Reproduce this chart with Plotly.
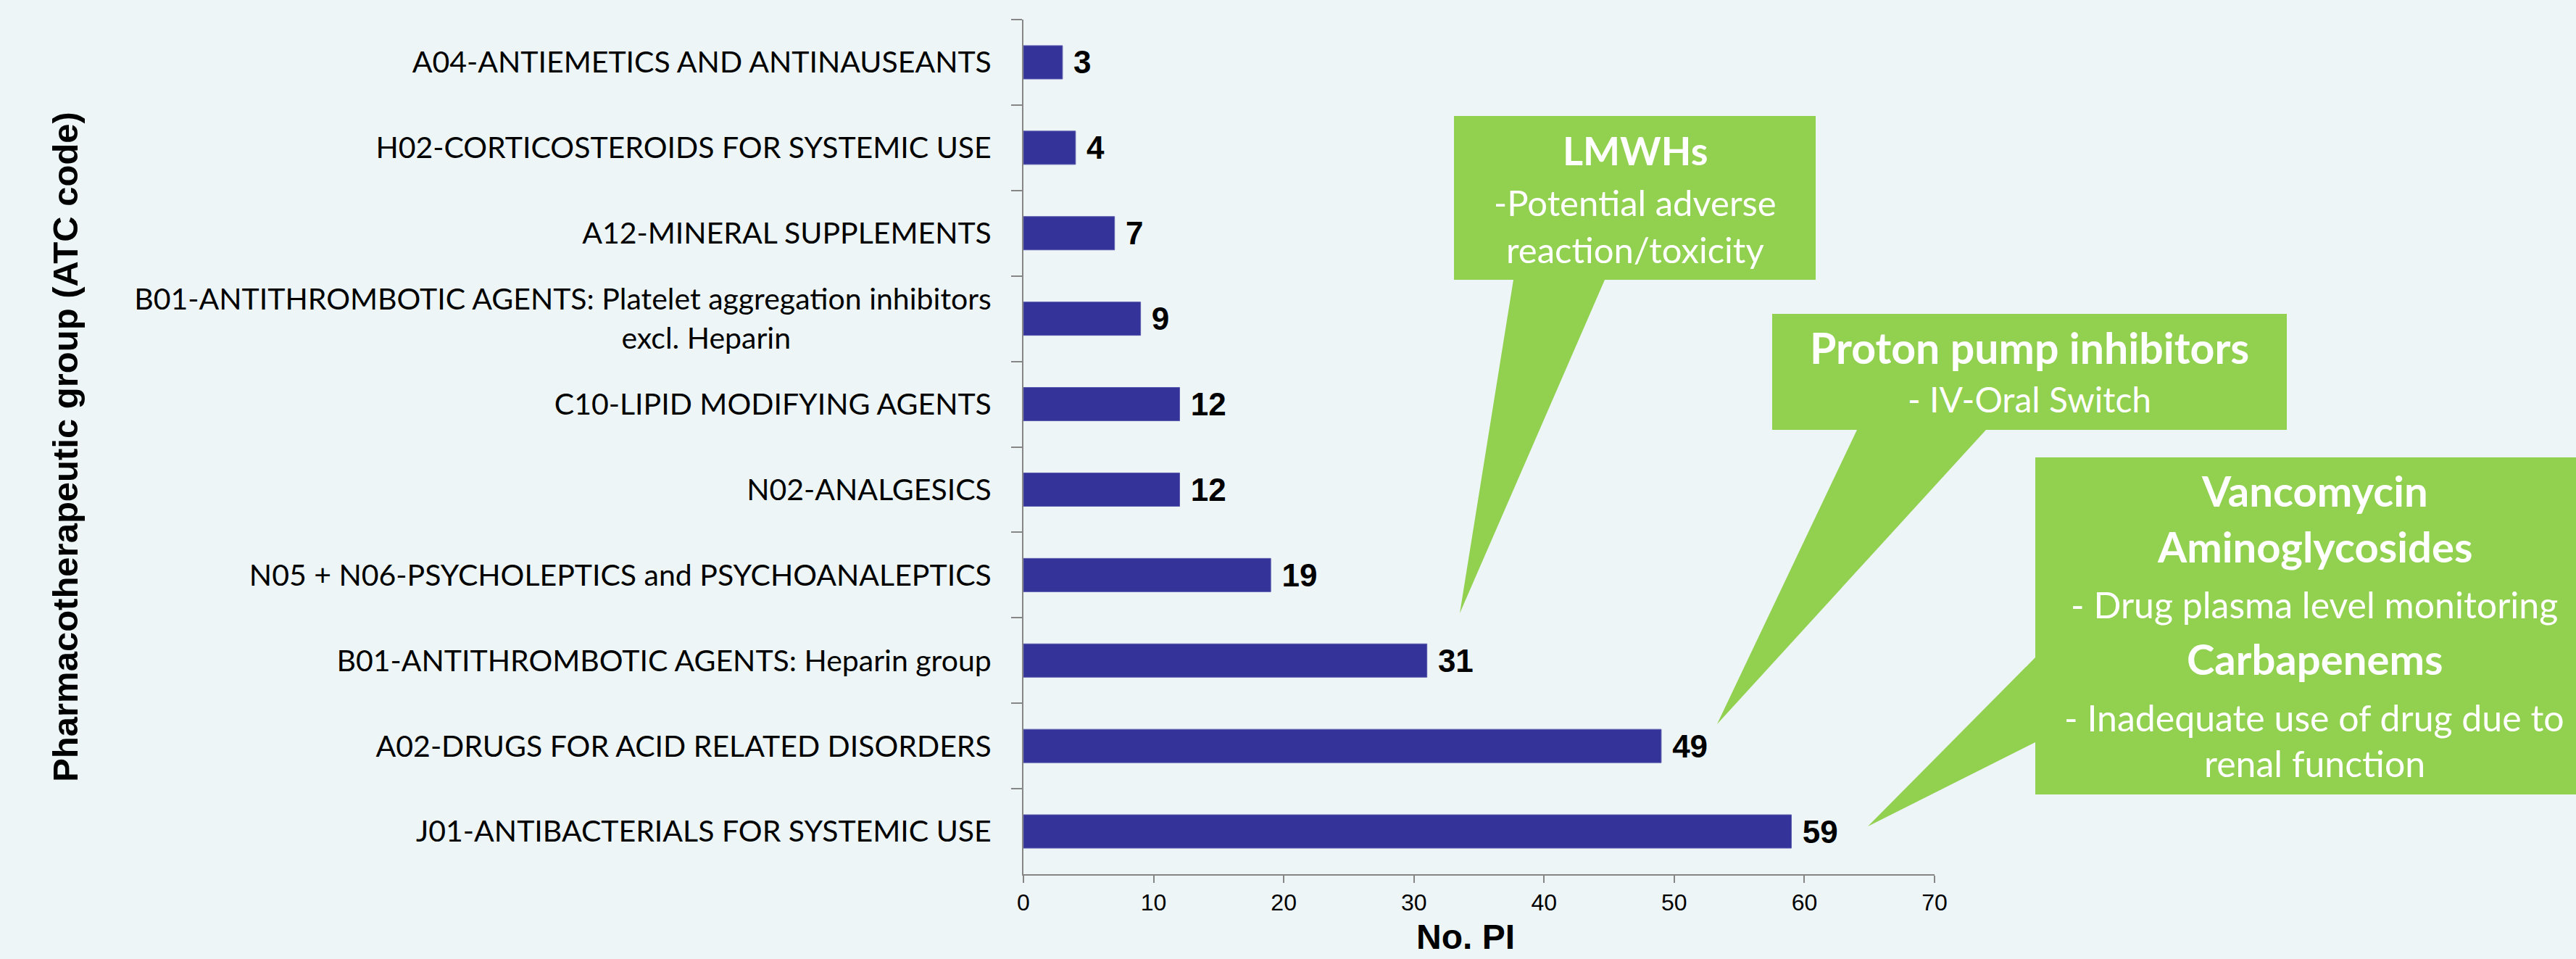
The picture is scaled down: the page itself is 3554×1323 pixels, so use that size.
import plotly.graph_objects as go

# ---------------- data ----------------
categories = [
    "A04-ANTIEMETICS AND ANTINAUSEANTS",
    "H02-CORTICOSTEROIDS FOR SYSTEMIC USE",
    "A12-MINERAL SUPPLEMENTS",
    "B01-ANTITHROMBOTIC AGENTS: Platelet aggregation inhibitors<br>excl. Heparin" + "\u2003" * 9,
    "C10-LIPID MODIFYING AGENTS",
    "N02-ANALGESICS",
    "N05 + N06-PSYCHOLEPTICS and PSYCHOANALEPTICS",
    "B01-ANTITHROMBOTIC AGENTS: Heparin group",
    "A02-DRUGS FOR ACID RELATED DISORDERS",
    "J01-ANTIBACTERIALS FOR SYSTEMIC USE",
]
pi_counts = [3, 4, 7, 9, 12, 12, 19, 31, 49, 59]
x_ticks = [0, 10, 20, 30, 40, 50, 60, 70]

callout_lmwh = ["LMWHs", "-Potential adverse", "reaction/toxicity"]
callout_ppi = ["Proton pump inhibitors", "- IV-Oral Switch"]
callout_anti = ["Vancomycin", "Aminoglycosides", "- Drug plasma level monitoring",
                "Carbapenems", "- Inadequate use of drug due to", "renal function"]

# ---------------- layout geometry (pixels) ----------------
W, H = 3554, 1323
ML, MR, MT, MB = 1412, 885, 27, 117
PW = W - ML - MR
PH = H - MT - MB


def px(X):
    return (X - ML) / PW


def py(Y):
    return (H - MB - Y) / PH


def path(points):
    return "M " + " L ".join(f"{px(a):.5f},{py(b):.5f}" for a, b in points) + " Z"


BG = "#EDF5F6"
GREEN = "#92D050"
AXIS = "#868686"
CAL = "Lato, 'Open Sans', sans-serif"
ARIAL = "Liberation Sans, Arial, sans-serif"

fig = go.Figure(
    go.Bar(
        x=pi_counts,
        y=categories,
        orientation="h",
        marker=dict(color="#333399", line=dict(color="#5A5AAE", width=1)),
        texttemplate="\u00a0%{x}",
        textposition="outside",
        textfont=dict(family=ARIAL, size=44, color="black", weight="bold"),
        cliponaxis=False,
        constraintext="none",
        hoverinfo="skip",
    )
)

shapes = [
    dict(type="path", xref="paper", yref="paper", fillcolor=GREEN, line=dict(width=0),
         path=path([(2006, 160), (2505, 160), (2505, 386), (2214, 386), (2014, 846),
                    (2088, 386), (2006, 386)])),
    dict(type="path", xref="paper", yref="paper", fillcolor=GREEN, line=dict(width=0),
         path=path([(2445, 433), (3155, 433), (3155, 593), (2740, 593), (2369, 999),
                    (2562, 593), (2445, 593)])),
    dict(type="path", xref="paper", yref="paper", fillcolor=GREEN, line=dict(width=0),
         path=path([(2808, 631), (3590, 631), (3590, 1096), (2808, 1096), (2808, 1024),
                    (2577, 1140), (2808, 907)])),
]

annotations = []


def add_line(text, cx, cy, size, bold, family=CAL, color="white", anchor="middle"):
    annotations.append(dict(
        text=text, xref="paper", yref="paper", x=px(cx), y=py(cy),
        xanchor="center", yanchor=anchor, showarrow=False,
        font=dict(family=family, size=size, color=color, weight="bold" if bold else "normal"),
    ))


# LMWHs callout
add_line(callout_lmwh[0], 2256, 207, 54, True)
add_line(callout_lmwh[1], 2256, 279, 49, False)
add_line(callout_lmwh[2], 2256, 344, 49, False)
# PPI callout
add_line(callout_ppi[0], 2800, 479, 59, True)
add_line(callout_ppi[1], 2800, 550, 48, False)
# Antibacterials callout
anti_y = [676, 753, 834, 908, 990, 1053]
anti_bold = [True, True, False, True, False, False]
for t, yy, b in zip(callout_anti, anti_y, anti_bold):
    add_line(t, 3193, yy, 58 if b else 50, b)

# x-axis title (kept inside the canvas)
add_line("No. PI", 2022, 1321, 48, True, family=ARIAL, color="black", anchor="bottom")

fig.update_layout(
    width=W, height=H,
    margin=dict(l=ML, r=MR, t=MT, b=MB, autoexpand=False),
    paper_bgcolor=BG, plot_bgcolor=BG,
    bargap=0.61,
    showlegend=False,
    shapes=shapes,
    annotations=annotations,
    xaxis=dict(
        range=[0, 70], tickvals=x_ticks, showgrid=False, zeroline=False,
        showline=True, linecolor=AXIS, linewidth=2,
        ticks="outside", ticklen=10, tickwidth=2, tickcolor=AXIS,
        tickfont=dict(family=ARIAL, size=32, color="black"),
    ),
    yaxis=dict(
        type="category", autorange="reversed", showgrid=False, zeroline=False,
        showline=True, linecolor=AXIS, linewidth=2,
        ticks="outside", ticklen=15, tickwidth=2, tickcolor=AXIS, tickson="boundaries",
        tickfont=dict(family=CAL, size=41, color="black"),
        ticklabelstandoff=34,
        title=dict(text="Pharmacotherapeutic group (ATC code)",
                   font=dict(family=ARIAL, size=49, color="black", weight="bold"),
                   standoff=62),
    ),
)

fig.write_html(
    "out.html",
    config={"displayModeBar": False},
    post_script="document.body.style.margin='0';document.body.style.overflow='hidden';",
)
